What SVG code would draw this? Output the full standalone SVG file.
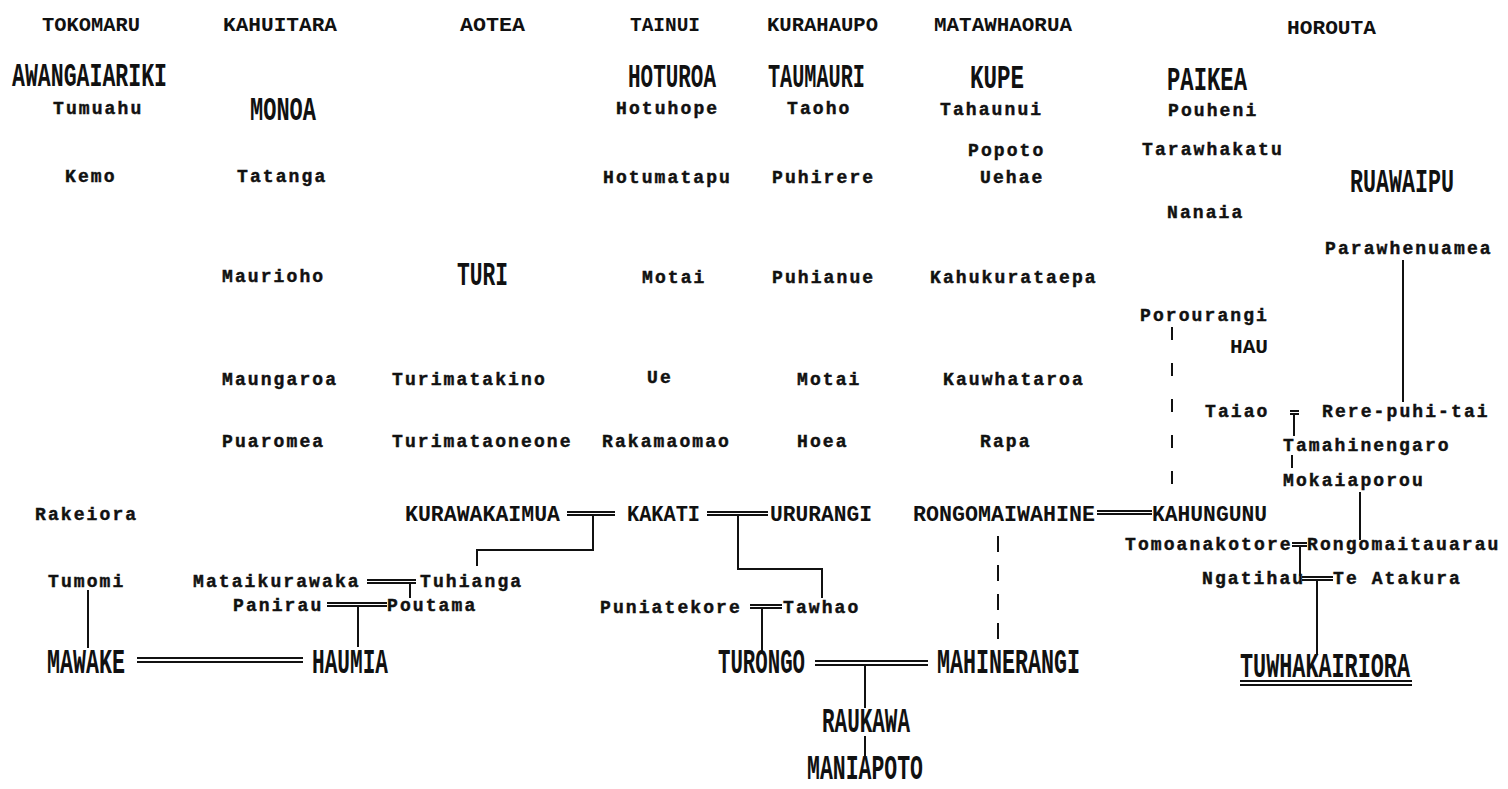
<svg xmlns="http://www.w3.org/2000/svg" width="1508" height="789" viewBox="0 0 1508 789">
<style>
text{fill:#111}
.h{font-family:"Liberation Mono",monospace;font-weight:bold;font-size:21px}
.n{font-family:"Liberation Mono",monospace;font-weight:bold;font-size:18px;letter-spacing:2.1px;stroke:#111;stroke-width:0.45px}
.m{font-family:"Liberation Mono",monospace;font-weight:bold;font-size:22px}
.b{font-family:"Liberation Mono",monospace;font-weight:bold;font-size:33px}
.bb{font-family:"Liberation Mono",monospace;font-weight:bold;font-size:35px}
.ln{stroke:#111;stroke-width:2;fill:none}
.d1{stroke-dasharray:16 13}
.d2{stroke-dasharray:13 23}
</style>
<rect width="1508" height="789" fill="#fff"/>
<g id="headings">
<text id="h-tokomaru" class="h" x="42" y="31" textLength="98" lengthAdjust="spacingAndGlyphs">TOKOMARU</text>
<text id="h-kahuitara" class="h" x="223" y="31" textLength="114" lengthAdjust="spacingAndGlyphs">KAHUITARA</text>
<text id="h-aotea" class="h" x="460" y="31" textLength="65" lengthAdjust="spacingAndGlyphs">AOTEA</text>
<text id="h-tainui" class="h" x="630" y="31" textLength="70" lengthAdjust="spacingAndGlyphs">TAINUI</text>
<text id="h-kurahaupo" class="h" x="767" y="31" textLength="111" lengthAdjust="spacingAndGlyphs">KURAHAUPO</text>
<text id="h-matawhaorua" class="h" x="934" y="31" textLength="138" lengthAdjust="spacingAndGlyphs">MATAWHAORUA</text>
<text id="h-horouta" class="h" x="1287" y="34" textLength="89" lengthAdjust="spacingAndGlyphs">HOROUTA</text>
</g>
<g id="n-awangaiariki"><text class="b" x="12" y="86" textLength="155" lengthAdjust="spacingAndGlyphs">AWANGAIARIKI</text></g>
<g id="n-hoturoa"><text class="b" x="628" y="87" textLength="88" lengthAdjust="spacingAndGlyphs">HOTUROA</text></g>
<g id="n-taumauri"><text class="b" x="768" y="87" textLength="97" lengthAdjust="spacingAndGlyphs">TAUMAURI</text></g>
<g id="n-kupe"><text class="b" x="970" y="88" textLength="54" lengthAdjust="spacingAndGlyphs">KUPE</text></g>
<g id="n-paikea"><text class="b" x="1167" y="90" textLength="80" lengthAdjust="spacingAndGlyphs">PAIKEA</text></g>
<g id="n-monoa"><text class="b" x="250" y="120" textLength="66" lengthAdjust="spacingAndGlyphs">MONOA</text></g>
<g id="n-ruawaipu"><text class="b" x="1350" y="192" textLength="104" lengthAdjust="spacingAndGlyphs">RUAWAIPU</text></g>
<g id="n-turi"><text class="b" x="457" y="285" textLength="51" lengthAdjust="spacingAndGlyphs">TURI</text></g>

<g id="n-tumuahu"><text class="n" x="53" y="114">Tumuahu</text></g>
<g id="n-kemo"><text class="n" x="65" y="182">Kemo</text></g>
<g id="n-tatanga"><text class="n" x="237" y="182">Tatanga</text></g>
<g id="n-hotuhope"><text class="n" x="616" y="114">Hotuhope</text></g>
<g id="n-taoho"><text class="n" x="787" y="114">Taoho</text></g>
<g id="n-tahaunui"><text class="n" x="940" y="115">Tahaunui</text></g>
<g id="n-pouheni"><text class="n" x="1168" y="116">Pouheni</text></g>
<g id="n-popoto"><text class="n" x="968" y="156">Popoto</text></g>
<g id="n-tarawhakatu"><text class="n" x="1142" y="155">Tarawhakatu</text></g>
<g id="n-hotumatapu"><text class="n" x="603" y="183">Hotumatapu</text></g>
<g id="n-puhirere"><text class="n" x="772" y="183">Puhirere</text></g>
<g id="n-uehae"><text class="n" x="980" y="183">Uehae</text></g>
<g id="n-nanaia"><text class="n" x="1167" y="218">Nanaia</text></g>
<g id="n-parawhenuamea"><text class="n" x="1325" y="254">Parawhenuamea</text></g>
<g id="n-maurioho"><text class="n" x="222" y="282">Maurioho</text></g>
<g id="n-motai1"><text class="n" x="642" y="283">Motai</text></g>
<g id="n-puhianue"><text class="n" x="772" y="283">Puhianue</text></g>
<g id="n-kahukurataepa"><text class="n" x="930" y="283">Kahukurataepa</text></g>
<g id="n-porourangi"><text class="n" x="1140" y="321">Porourangi</text></g>
<g id="n-hau"><text class="h" x="1230" y="353" textLength="38" lengthAdjust="spacingAndGlyphs">HAU</text></g>
<g id="n-maungaroa"><text class="n" x="222" y="385">Maungaroa</text></g>
<g id="n-turimatakino"><text class="n" x="392" y="385">Turimatakino</text></g>
<g id="n-ue"><text class="n" x="647" y="383">Ue</text></g>
<g id="n-motai2"><text class="n" x="797" y="385">Motai</text></g>
<g id="n-kauwhataroa"><text class="n" x="943" y="385">Kauwhataroa</text></g>
<g id="n-taiao"><text class="n" x="1205" y="417">Taiao</text></g>
<g id="n-rerepuhitai"><text class="n" x="1322" y="417">Rere-puhi-tai</text></g>
<g id="n-puaromea"><text class="n" x="222" y="447">Puaromea</text></g>
<g id="n-turimataoneone"><text class="n" x="392" y="447">Turimataoneone</text></g>
<g id="n-rakamaomao"><text class="n" x="602" y="447">Rakamaomao</text></g>
<g id="n-hoea"><text class="n" x="797" y="447">Hoea</text></g>
<g id="n-rapa"><text class="n" x="980" y="447">Rapa</text></g>
<g id="n-tamahinengaro"><text class="n" x="1283" y="451">Tamahinengaro</text></g>
<g id="n-mokaiaporou"><text class="n" x="1283" y="486">Mokaiaporou</text></g>
<g id="n-rakeiora"><text class="n" x="35" y="520">Rakeiora</text></g>
<g id="n-tomoanakotore"><text class="n" x="1125" y="550">Tomoanakotore</text></g>
<g id="n-rongomaitauarau"><text class="n" x="1307" y="550">Rongomaitauarau</text></g>
<g id="n-tumomi"><text class="n" x="48" y="587">Tumomi</text></g>
<g id="n-mataikurawaka"><text class="n" x="193" y="587">Mataikurawaka</text></g>
<g id="n-tuhianga"><text class="n" x="420" y="587">Tuhianga</text></g>
<g id="n-ngatihau"><text class="n" x="1202" y="584">Ngatihau</text></g>
<g id="n-teatakura"><text class="n" x="1333" y="584">Te Atakura</text></g>
<g id="n-panirau"><text class="n" x="233" y="611">Panirau</text></g>
<g id="n-poutama"><text class="n" x="387" y="611">Poutama</text></g>
<g id="n-puniatekore"><text class="n" x="600" y="613">Puniatekore</text></g>
<g id="n-tawhao"><text class="n" x="783" y="613">Tawhao</text></g>

<g id="n-kurawakaimua"><text class="m" x="405" y="521" textLength="155" lengthAdjust="spacingAndGlyphs">KURAWAKAIMUA</text></g>
<g id="n-kakati"><text class="m" x="627" y="521" textLength="73" lengthAdjust="spacingAndGlyphs">KAKATI</text></g>
<g id="n-ururangi"><text class="m" x="770" y="521" textLength="102" lengthAdjust="spacingAndGlyphs">URURANGI</text></g>
<g id="n-rongomaiwahine"><text class="m" x="913" y="521" textLength="182" lengthAdjust="spacingAndGlyphs">RONGOMAIWAHINE</text></g>
<g id="n-kahungunu"><text class="m" x="1152" y="521" textLength="115" lengthAdjust="spacingAndGlyphs">KAHUNGUNU</text></g>

<g id="n-mawake"><text class="bb" x="47" y="673" textLength="78" lengthAdjust="spacingAndGlyphs">MAWAKE</text></g>
<g id="n-haumia"><text class="bb" x="312" y="673" textLength="76" lengthAdjust="spacingAndGlyphs">HAUMIA</text></g>
<g id="n-turongo"><text class="bb" x="718" y="673" textLength="87" lengthAdjust="spacingAndGlyphs">TURONGO</text></g>
<g id="n-mahinerangi"><text class="bb" x="937" y="673" textLength="143" lengthAdjust="spacingAndGlyphs">MAHINERANGI</text></g>
<g id="n-tuwhakairiora"><text class="bb" x="1240" y="677" textLength="170" lengthAdjust="spacingAndGlyphs">TUWHAKAIRIORA</text></g>
<g id="n-raukawa"><text class="bb" x="822" y="732" textLength="88" lengthAdjust="spacingAndGlyphs">RAUKAWA</text></g>
<g id="n-maniapoto"><text class="bb" x="807" y="779" font-size="31" textLength="116" lengthAdjust="spacingAndGlyphs">MANIAPOTO</text></g>

<g id="connectors" class="ln">
<path d="M88 590V648"/>
<path d="M137 658H303M137 662H303"/>
<path d="M367 580H416M367 583H416M410 583V598"/>
<path d="M327 603H387M327 606H387M358 606V647"/>
<path d="M567 512H615M567 515H615M593 515V550H477V566"/>
<path d="M707 512H768M707 515H768M738 515V569H822V598"/>
<path d="M750 605H782M750 608H782M762 608V651"/>
<path d="M815 661H928M815 665H928M865 665V708M865 736V757"/>
<path class="d1" d="M998 536V645"/>
<path d="M1097 511H1152M1097 514H1152"/>
<path class="d2" d="M1172 327V503"/>
<path d="M1403 260V402"/>
<path d="M1290 411H1299M1290 414H1299M1294 414V436"/>
<path d="M1292 455V468"/>
<path d="M1360 492V540"/>
<path d="M1292 543H1307M1292 546H1307M1300 546V576"/>
<path d="M1302 577H1333M1302 580H1333M1317 580V655"/>
<path d="M1240 681H1412M1240 685H1412"/>
</g>
</svg>
